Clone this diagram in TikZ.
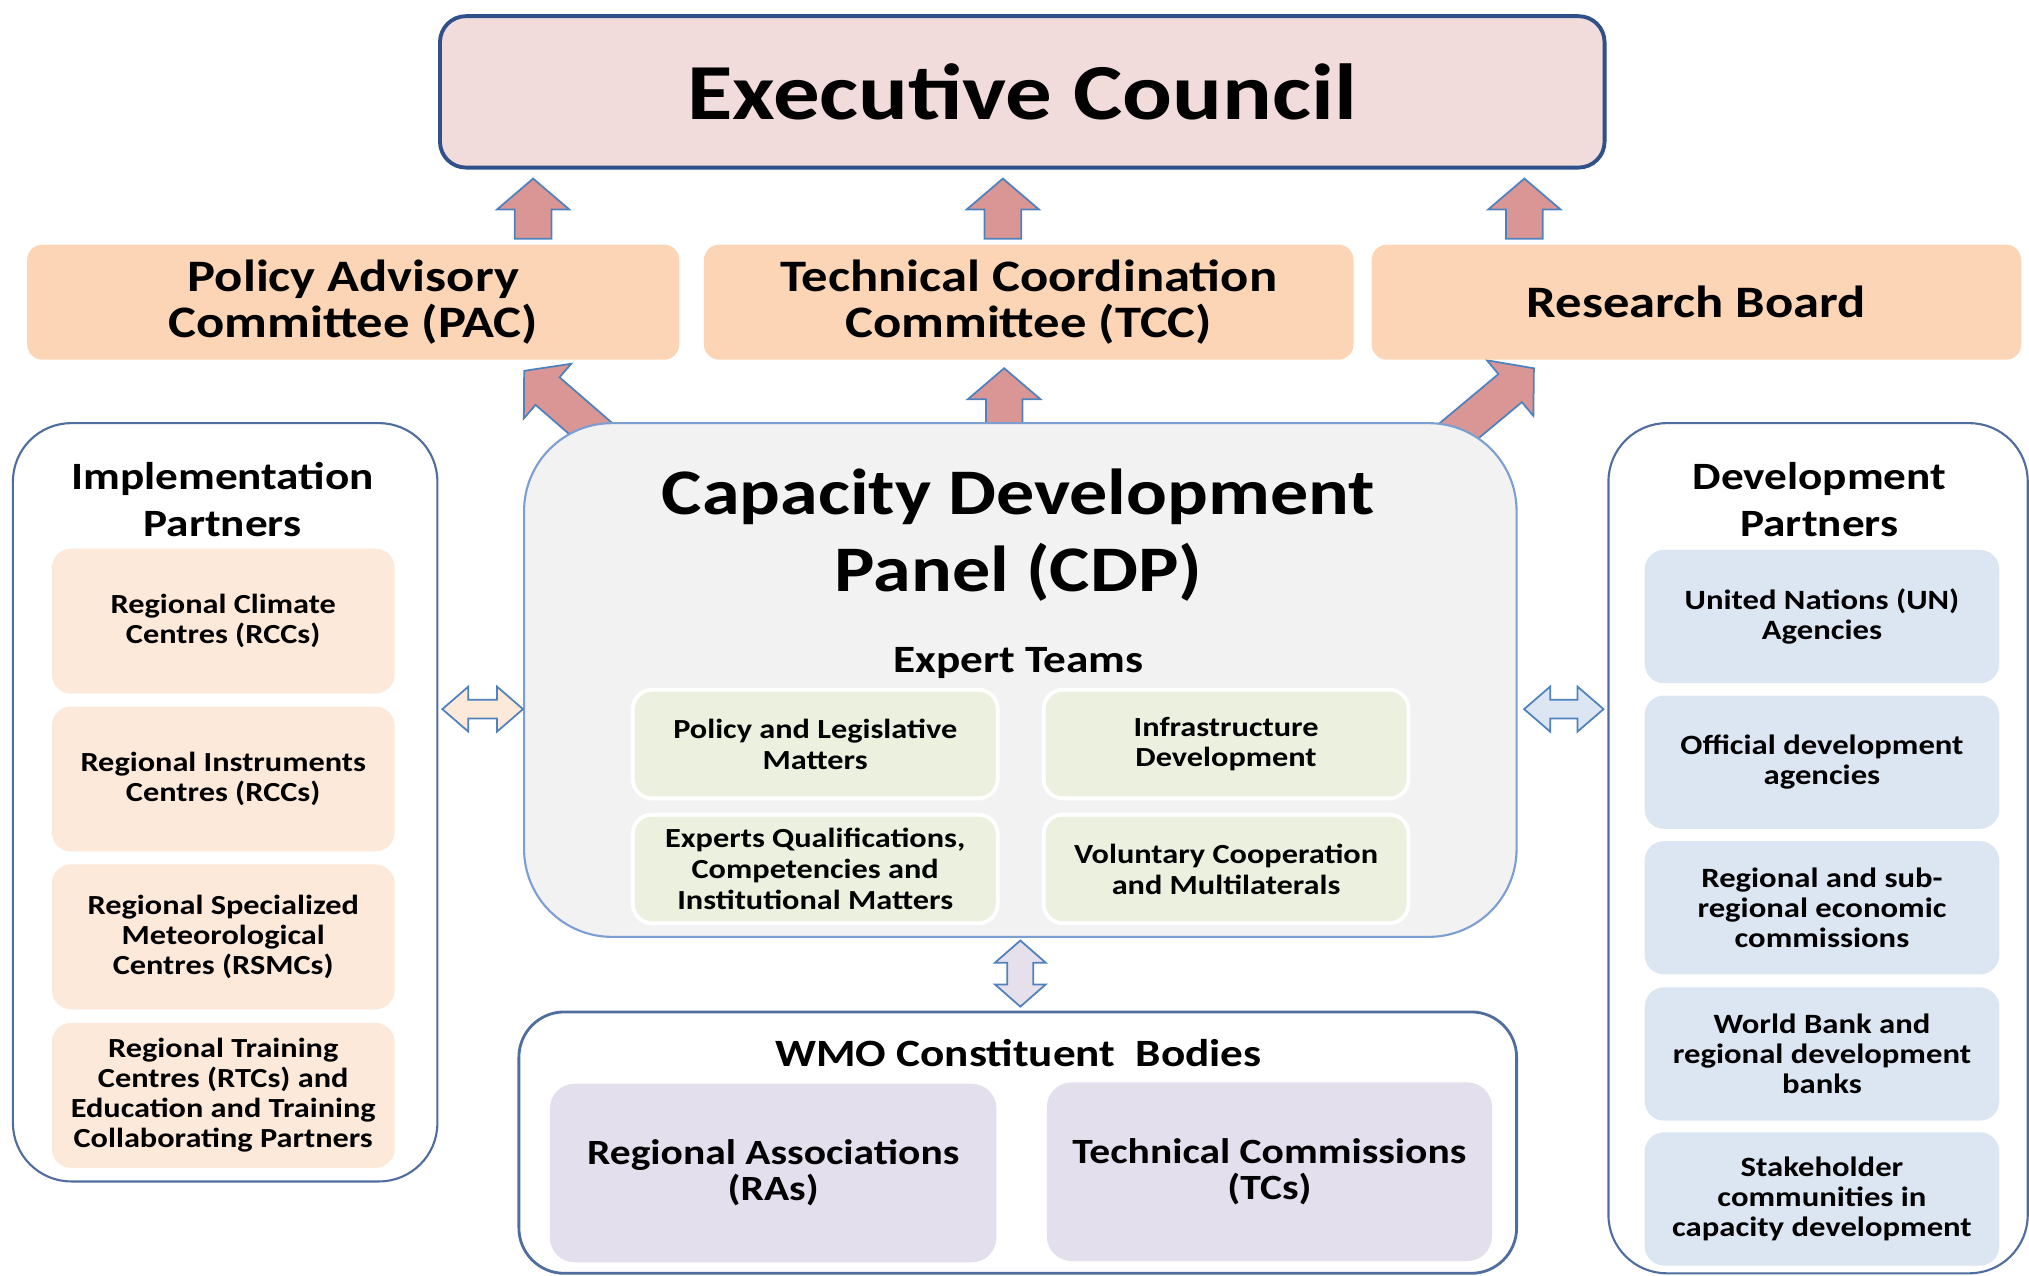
\documentclass[tikz,border=0pt]{standalone}
\usepackage{fontspec}
\setmainfont{Carlito}[FakeStretch=1.17]
\usetikzlibrary{calc, positioning, backgrounds}
\definecolor{councilfill}{HTML}{F2DCDB}
\definecolor{councilborder}{HTML}{2F5088}
\definecolor{committeefill}{HTML}{FBD5B5}
\definecolor{implfill}{HTML}{FDE9D9}
\definecolor{devfill}{HTML}{DCE6F2}
\definecolor{panelborder}{HTML}{4F6D9E}
\definecolor{cdpfill}{HTML}{F2F2F2}
\definecolor{cdpborder}{HTML}{7C9FD2}
\definecolor{expertfill}{HTML}{EBF1DE}
\definecolor{bodyfill}{HTML}{E4DFEC}
\definecolor{arrowfill}{HTML}{D99694}
\definecolor{arrowblue}{HTML}{4F81BD}
\definecolor{lavender}{HTML}{E6E0EC}
\def\px{0.01294cm}
\def\headl{8.8pt}
\def\headw{10.3pt}
\def\shaftw{5.2pt}

% block arrow from #1 to the tip #2
\newcommand{\blockarr}[3]{%
  \draw[arrow edge, fill=#3] let \p1=($(#2)-(#1)$), \n1={atan2(\y1,\x1)}, \n2={veclen(\x1,\y1)} in
    [shift={(#1)}, rotate=\n1]
    (0pt,-\shaftw) -- (\n2*1pt-\headl,-\shaftw) -- (\n2*1pt-\headl,-\headw) -- (\n2*1pt,0pt)
    -- (\n2*1pt-\headl,\headw) -- (\n2*1pt-\headl,\shaftw) -- (0pt,\shaftw) -- cycle;}
% double block arrow: #4 head length, #5 head half width, #6 shaft half width
\newcommand{\dblarr}[6]{%
  \draw[arrow edge, fill=#3] let \p1=($(#2)-(#1)$), \n1={atan2(\y1,\x1)}, \n2={veclen(\x1,\y1)} in
    [shift={(#1)}, rotate=\n1]
    (0pt,0pt) -- (#4,#5) -- (#4,#6) -- (\n2*1pt-#4,#6) -- (\n2*1pt-#4,#5) -- (\n2*1pt,0pt)
    -- (\n2*1pt-#4,-#5) -- (\n2*1pt-#4,-#6) -- (#4,-#6) -- (#4,-#5) -- cycle;}

\begin{document}
\begin{tikzpicture}[x=\px, y=-\px, font=\bfseries]
    \tikzstyle{box}=[inner sep=0pt, align=center, text=black]
    \tikzstyle{council}=[box, draw=councilborder, line width=1.1pt, fill=councilfill, rounded corners=7.4pt,
        minimum width=900*\px, minimum height=117*\px, font=\fontsize{22.6}{26}\selectfont\bfseries]
    \tikzstyle{committee}=[box, fill=committeefill, rounded corners=4.4pt, minimum width=502*\px,
        minimum height=89*\px, font=\fontsize{12.8}{13.25}\selectfont\bfseries]
    \tikzstyle{panel}=[box, draw=panelborder, line width=0.6pt, fill=white, rounded corners=16.6pt]
    \tikzstyle{heading}=[align=center, inner sep=0pt, font=\fontsize{11}{13.25}\selectfont\bfseries]
    \tikzstyle{impl item}=[box, fill=implfill, rounded corners=5.5pt, minimum width=265*\px,
        minimum height=112*\px, font=\fontsize{7.86}{8.5}\selectfont\bfseries]
    \tikzstyle{dev item}=[box, fill=devfill, rounded corners=5.5pt, minimum width=274*\px,
        minimum height=103*\px, font=\fontsize{7.95}{8.6}\selectfont\bfseries]
    \tikzstyle{expert}=[box, draw=white, line width=1.1pt, fill=expertfill, rounded corners=5.5pt,
        minimum width=282*\px, minimum height=84*\px, font=\fontsize{7.86}{8.8}\selectfont\bfseries]
    \tikzstyle{body}=[box, fill=bodyfill, rounded corners=7pt, minimum width=345*\px,
        minimum height=138*\px, font=\fontsize{10.1}{10.3}\selectfont\bfseries]
    \tikzstyle{arrow edge}=[draw=arrowblue, line width=0.5pt, line join=miter]

    \useasboundingbox (0,0) rectangle (1568,986);

    % Draw the council and the committees
    \node[council] (exec) at (790,71) {Executive Council};
    \node[committee, minimum width=504*\px] (pac) at (273,233.5) {Policy Advisory\\Committee (PAC)};
    \node[committee] (tcc) at (795,233.5) {Technical Coordination\\Committee (TCC)};
    \node[committee] (rb) at (1311,233.5) {Research Board};

    % Implementation partners
    \node[panel, minimum width=328*\px, minimum height=586*\px] (impl) at (174,620) {};
    \node[heading] (impl title) at (172,386) {Implementation\\Partners};
    \foreach \name/\y/\txt in {rcc/480/{Regional Climate\\Centres (RCCs)},
                               ric/602/{Regional Instruments\\Centres (RCCs)},
                               rsmc/724/{Regional Specialized\\Meteorological\\Centres (RSMCs)},
                               rtc/846.5/{Regional Training\\Centres (RTCs) and\\Education and Training\\Collaborating Partners}}
        \node[impl item] (\name) at (172.5,\y) {\txt};

    % Development partners
    \node[panel, minimum width=324*\px, minimum height=657*\px] (dev) at (1405,655.5) {};
    \node[heading] (dev title) at (1406,386) {Development\\Partners};
    \foreach \name/\y/\txt in {un/476.5/{United Nations (UN)\\Agencies},
                               oda/589/{Official development\\agencies},
                               rec/701.5/{Regional and sub-\\regional economic\\commissions},
                               wb/814.5/{World Bank and\\regional development\\banks},
                               shc/926.5/{Stakeholder\\communities in\\capacity development}}
        \node[dev item] (\name) at (1408,\y) {\txt};

    % Capacity Development Panel
    \node[box, draw=cdpborder, line width=0.6pt, fill=cdpfill, rounded corners=25pt,
        minimum width=767*\px, minimum height=397*\px] (cdp) at (788.5,525.5) {};
    \node[heading, font=\fontsize{18.5}{21.7}\selectfont\bfseries] (cdp title) at (787,413.5) {Capacity Development\\Panel (CDP)};
    \node[heading] (et title) at (787,512) {Expert Teams};
    \node[expert] (et-1) at (630,575) {Policy and Legislative\\Matters};
    \node[expert] (et-2) at (947.5,575) {Infrastructure\\Development};
    \node[expert] (et-3) at (630,671.5) {Experts Qualifications,\\Competencies and\\Institutional Matters};
    \node[expert] (et-4) at (947.5,671.5) {Voluntary Cooperation\\and Multilaterals};

    % WMO constituent bodies
    \node[panel, rounded corners=12.9pt, line width=0.8pt, minimum width=771*\px,
        minimum height=202*\px] (wmo) at (786.5,883) {};
    \node[heading] (wmo title) at (787,814) {WMO Constituent\ \ Bodies};
    \node[body] (ra) at (597.5,906.5) {Regional Associations\\(RAs)};
    \node[body, minimum width=344*\px] (tc) at (981,905.5) {Technical Commissions\\(TCs)};

    % Arrows up to the council
    \coordinate (a-1) at ($(pac.north)+(139,-4)$);
    \coordinate (a-2) at ($(tcc.north)+(-20,-4)$);
    \coordinate (a-3) at ($(rb.north)+(-133,-4)$);
    \foreach \i in {1,2,3} {
        \coordinate (t-\i) at ($(exec.south -| a-\i)+(0,7)$);
        \blockarr{a-\i}{t-\i}{arrowfill}
    }

    % Arrows from the panel to the committees
    \coordinate (b-1) at ($(cdp.north west)+(65,16)$);
    \coordinate (u-1) at ($(pac.south east)+(-120.5,8)$);
    \coordinate (b-2) at ($(cdp.north)+(-12.5,18)$);
    \coordinate (u-2) at ($(tcc.south -| b-2)+(0,6)$);
    \coordinate (b-3) at ($(cdp.north east)+(-60,19)$);
    \coordinate (u-3) at ($(rb.south west)+(126,6)$);
    \begin{scope}[on background layer]
        \foreach \i in {1,2,3} {
            \blockarr{b-\i}{u-\i}{arrowfill}
        }
    \end{scope}

    % Two-way arrows
    \coordinate (l-1) at ($(impl.east)+(3,-72)$);
    \coordinate (l-2) at (cdp.west |- l-1);
    \dblarr{l-1}{l-2}{implfill}{7.4pt}{6.4pt}{2.7pt}
    \coordinate (r-1) at ($(cdp.east)+(5,22.5)$);
    \coordinate (r-2) at ($(dev.west |- r-1)+(-3,0)$);
    \dblarr{r-1}{r-2}{devfill}{7.4pt}{6.4pt}{2.7pt}
    \coordinate (v-1) at ($(cdp.south)+(0,2)$);
    \coordinate (v-2) at ($(wmo.north -| v-1)+(0,-3)$);
    \dblarr{v-1}{v-2}{lavender}{6.3pt}{7.2pt}{3.7pt}
\end{tikzpicture}
\end{document}
